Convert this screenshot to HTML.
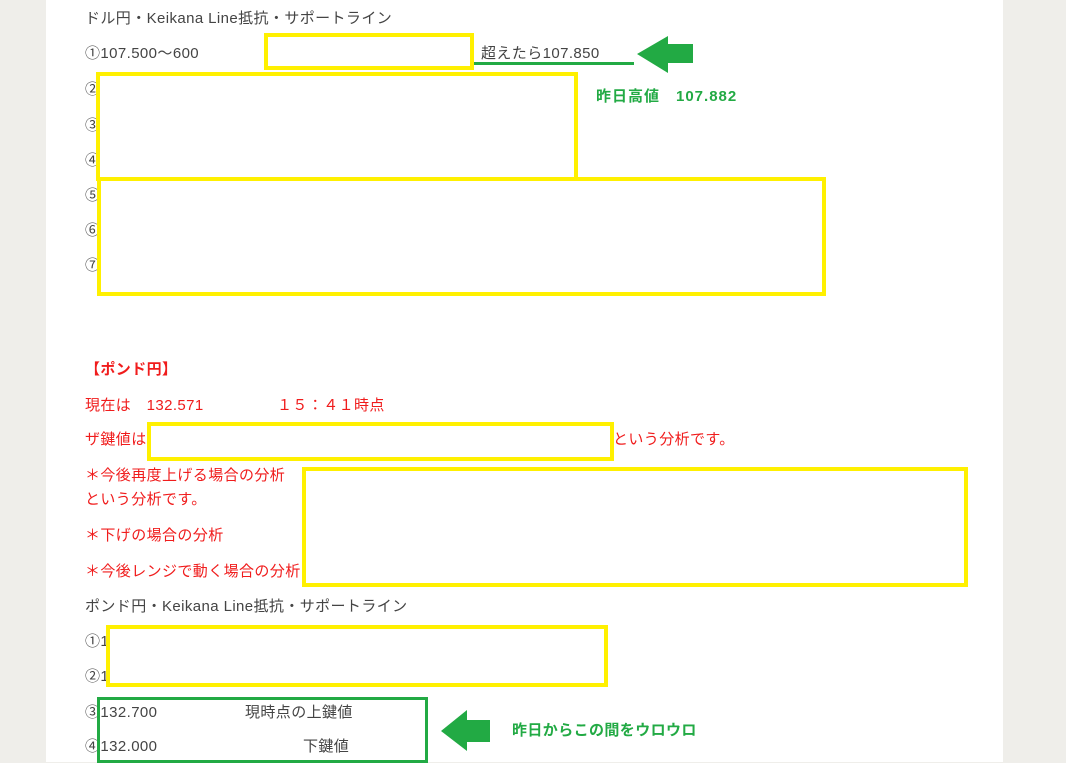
<!DOCTYPE html>
<html><head><meta charset="utf-8"><style>
body{margin:0;width:1066px;height:762px;background:#efeeea;position:relative;overflow:hidden;font-family:"Liberation Sans","Noto Sans CJK JP",sans-serif;font-size:15px;letter-spacing:0.4px;color:#444}
#pg{position:absolute;left:46px;top:0;width:957px;height:762px;background:#fff}
.t{position:absolute;white-space:nowrap;line-height:18px}
.r{color:#f01c1c}
.g{color:#22aa44;font-weight:bold}
.b{position:absolute;border:4px solid #fff000;box-sizing:border-box}
.gb{position:absolute;border:3px solid #22aa44;box-sizing:border-box}
</style></head><body>
<div id="pg"></div>
<div class="t" style="left:85px;top:10px">ドル円・Keikana Line抵抗・サポートライン</div>
<div class="t" style="left:85px;top:45px">①107.500～600</div>
<div class="t" style="left:481px;top:45px">超えたら107.850</div>
<div style="position:absolute;left:473px;top:62px;width:161px;height:3px;background:#22aa44"></div>
<svg style="position:absolute;left:0;top:0" width="1066" height="762"><polygon points="637,54 668,36 668,44 693,44 693,63 668,63 668,73" fill="#22aa44"/><polygon points="441,731 467,710 467,720 490,720 490,742 467,742 467,751" fill="#22aa44"/></svg>
<div class="t g" style="left:596px;top:88px;letter-spacing:1px">昨日高値　107.882</div>
<div class="t" style="left:85px;top:81px">②</div>
<div class="t" style="left:85px;top:117px">③</div>
<div class="t" style="left:85px;top:152px">④</div>
<div class="t" style="left:85px;top:187px">⑤</div>
<div class="t" style="left:85px;top:222px">⑥</div>
<div class="t" style="left:85px;top:257px">⑦</div>
<div class="b" style="left:264px;top:33px;width:210px;height:37px"></div>
<div class="b" style="left:96px;top:72px;width:482px;height:109px"></div>
<div class="b" style="left:97px;top:177px;width:729px;height:119px"></div>
<div class="t r" style="left:85px;top:361px;font-weight:bold">【ポンド円】</div>
<div class="t r" style="left:85px;top:397px">現在は　132.571</div>
<div class="t r" style="left:277px;top:397px">１５：４１時点</div>
<div class="t r" style="left:85px;top:431px">ザ鍵値は</div>
<div class="t r" style="left:613px;top:431px">という分析です。</div>
<div class="t r" style="left:85px;top:467px">＊今後再度上げる場合の分析</div>
<div class="t r" style="left:85px;top:491px">という分析です。</div>
<div class="t r" style="left:85px;top:527px">＊下げの場合の分析</div>
<div class="t r" style="left:85px;top:563px">＊今後レンジで動く場合の分析</div>
<div class="b" style="left:147px;top:422px;width:467px;height:39px"></div>
<div class="b" style="left:302px;top:467px;width:666px;height:120px"></div>
<div class="t" style="left:85px;top:598px">ポンド円・Keikana Line抵抗・サポートライン</div>
<div class="t" style="left:85px;top:633px">①1</div>
<div class="t" style="left:85px;top:668px">②1</div>
<div class="b" style="left:106px;top:625px;width:502px;height:62px"></div>
<div class="t" style="left:85px;top:704px">③132.700</div>
<div class="t" style="left:245px;top:704px">現時点の上鍵値</div>
<div class="t" style="left:85px;top:738px">④132.000</div>
<div class="t" style="left:303px;top:738px">下鍵値</div>
<div class="gb" style="left:97px;top:697px;width:331px;height:66px"></div>
<div class="t g" style="left:512px;top:722px">昨日からこの間をウロウロ</div>
</body></html>
